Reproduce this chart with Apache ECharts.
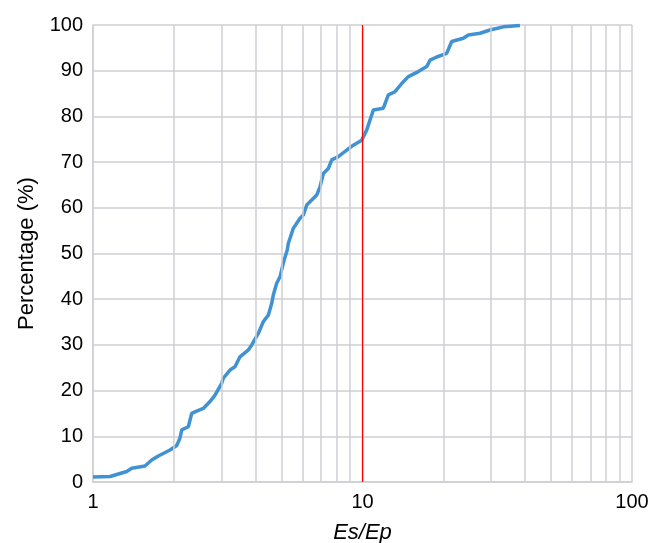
<!DOCTYPE html>
<html>
<head>
<meta charset="utf-8">
<script src="https://cdn.jsdelivr.net/npm/echarts@6/dist/echarts.min.js"></script>
<style>html,body{margin:0;padding:0;background:#fff}#c{width:657px;height:543px}</style>
</head>
<body>
<div id="c"></div>
<script>
// Es/Ep ratio values (x) and cumulative percentage (y)
var ratio = [1.00,1.157,1.334,1.392,1.559,1.651,1.747,1.931,2.045,2.102,2.134,2.258,2.324,2.425,2.566,2.717,2.836,3.003,3.044,3.224,3.364,3.511,3.771,3.882,4.106,4.285,4.472,4.604,4.667,4.804,4.942,5.083,5.26,5.305,5.536,5.863,6.03,6.209,6.481,6.764,6.957,7.156,7.469,7.689,8.133,8.738,9.245,9.931,10.36,10.51,10.97,11.95,12.47,13.20,13.98,14.79,16.11,17.31,17.80,18.85,20.53,21.43,23.66,24.70,27.29,29.73,33.31,38.40];
var percent = [1.1,1.2,2.3,3.0,3.5,4.8,5.7,7.0,8.0,9.6,11.4,12.1,15.0,15.5,16.1,17.6,19.0,21.6,22.7,24.5,25.2,27.4,28.9,30.0,32.5,35.1,36.5,39.1,40.9,43.5,44.9,47.9,50.8,52.2,55.5,57.7,58.4,60.6,61.7,62.8,64.6,67.5,68.6,70.5,71.2,72.6,73.7,74.8,77.0,78.1,81.4,81.8,84.7,85.4,87.2,88.7,89.8,90.9,92.3,93.0,93.8,96.4,97.1,97.8,98.2,98.9,99.6,99.9];
var minorGrid = [2,3,4,5,6,7,8,9,20,30,40,50,60,70,80,90];
var referenceRatio = [10];

var pts = ratio.map(function(x,i){return [x, percent[i]];});
var gridColor = '#cfcfd4';
var font = 'Liberation Sans, Arial, sans-serif';

var chart = echarts.init(document.getElementById('c'));
chart.setOption({
  animation: false,
  grid: {left: 93, right: 25, top: 25, bottom: 61, containLabel: false, outerBoundsMode: 'none'},
  xAxis: {
    type: 'log', logBase: 10, min: 1, max: 100,
    name: 'Es/Ep', nameLocation: 'middle', nameGap: 40,
    nameTextStyle: {fontFamily: font, fontSize: 22, fontStyle: 'italic', color: '#000'},
    axisLine: {show: true, lineStyle: {color: gridColor, width: 1.5}},
    axisTick: {show: false},
    axisLabel: {fontFamily: font, fontSize: 20, color: '#000', margin: 10},
    splitLine: {show: true, lineStyle: {color: gridColor, width: 1.5}}
  },
  yAxis: {
    type: 'value', min: 0, max: 100, interval: 10,
    name: 'Percentage (%)', nameLocation: 'middle', nameGap: 55,
    nameTextStyle: {fontFamily: font, fontSize: 22, color: '#000'},
    axisLine: {show: true, lineStyle: {color: gridColor, width: 1.5}},
    axisTick: {show: false},
    axisLabel: {fontFamily: font, fontSize: 20, color: '#000', margin: 10},
    splitLine: {show: true, lineStyle: {color: gridColor, width: 1.5}}
  },
  series: [
    {
      type: 'line', data: [], silent: true,
      markLine: {
        silent: true, symbol: 'none', label: {show: false},
        lineStyle: {color: gridColor, width: 1.5, type: 'solid'},
        data: minorGrid.map(function(v){return {xAxis: v};})
      }
    },
    {
      type: 'line', data: pts, showSymbol: false, smooth: false,
      lineStyle: {color: '#4192d2', width: 3.5},
      z: 3
    },
    {
      type: 'line', data: [], silent: true, z: 4,
      markLine: {
        silent: true, symbol: 'none', label: {show: false},
        lineStyle: {color: '#ff0000', width: 1.2, type: 'solid'},
        data: referenceRatio.map(function(v){return {xAxis: v};})
      }
    }
  ]
});
</script>
</body>
</html>
